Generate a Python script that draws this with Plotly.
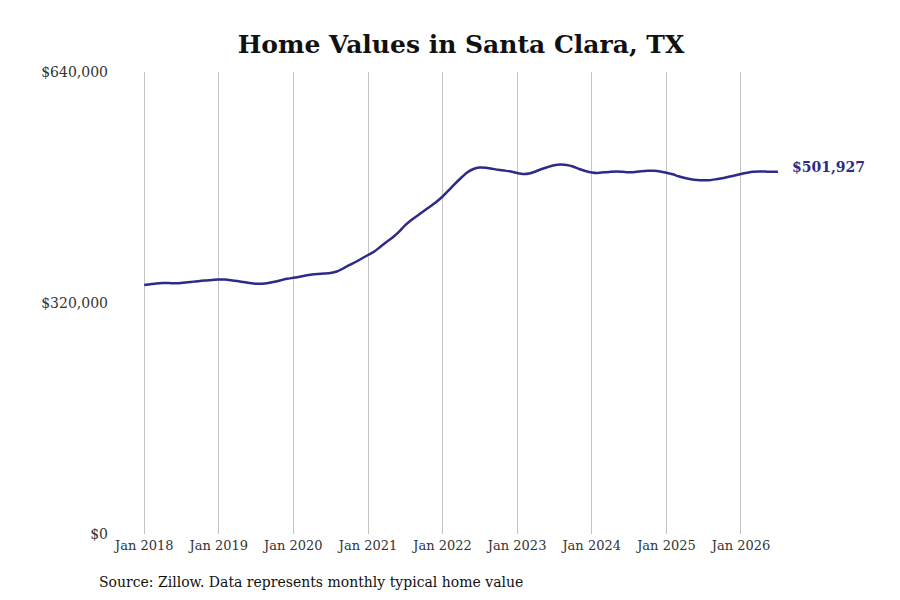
import plotly.graph_objects as go
import pandas as pd

dates = pd.date_range("2018-01-01", "2026-07-01", freq="MS")
values = [
    344900, 346000, 347000, 347600, 347600, 347300, 347700, 348700, 349600, 350500, 351200, 351900,
    352700, 352400, 351600, 350500, 349100, 347700, 346700, 346700, 347700, 349400, 351500, 353500,
    354900, 356400, 358100, 359500, 360300, 360900, 361600, 363600, 367800, 372600, 376800, 381600,
    386500, 391300, 397600, 404500, 410700, 418400, 427400, 435000, 441200, 447400, 453700, 459900,
    467500, 476500, 484800, 493200, 500800, 505600, 507600, 507300, 505900, 504500, 503400, 502200,
    500100, 498700, 499400, 502200, 505600, 508400, 510800, 511900, 511200, 509100, 505600, 502900,
    500800, 500100, 501100, 501700, 502200, 501700, 501200, 501500, 502600, 503300, 503100, 502200,
    500400, 498300, 495500, 493200, 491400, 490400, 490000, 490100, 491400, 492900, 494800, 496600,
    498700, 500400, 501700, 502200, 502000, 501700, 501927,
]
tick_dates = [f"{y}-01-01" for y in range(2018, 2027)]
tick_labels = [f"Jan {y}" for y in range(2018, 2027)]
y_ticks = [0, 320000, 640000]
y_labels = ["$0", "$320,000", "$640,000"]

title = "Home Values in Santa Clara, TX"
source = "Source: Zillow. Data represents monthly typical home value"
color = "#2e2a87"
font = "DejaVu Serif"

# plot area in page pixels (page is offset by 8px body margin)
L, T, B, R = 107, 64, 526, 782
W, H = R - L, B - T

fig = go.Figure()
fig.add_trace(go.Scatter(x=dates, y=values, mode="lines",
                         line=dict(color=color, width=2.5, shape="spline", smoothing=0.6),
                         hoverinfo="skip", showlegend=False))

fig.add_annotation(x=dates[-1], y=values[-1], xref="x", yref="y",
                   text=f"<b>${values[-1]:,}</b>", showarrow=False,
                   xanchor="left", yanchor="middle", xshift=12, yshift=5,
                   font=dict(family=font, size=14, color=color))

fig.add_annotation(x=(89 - L) / W, y=(B - 574) / H, xref="paper", yref="paper", text=source,
                   showarrow=False, xanchor="left", yanchor="middle",
                   font=dict(family=font, size=14, color="#111"))

fig.update_layout(
    width=900, height=600,
    paper_bgcolor="white", plot_bgcolor="white",
    margin=dict(l=L, r=900 - R, t=T, b=600 - B),
    title=dict(text=f"<b>{title}</b>", x=453/900, xanchor="center", y=1-36/600, yanchor="middle",
               font=dict(family=font, size=25, color="#111")),
    font=dict(family=font, size=14, color="#333"),
    xaxis=dict(range=["2017-08-11", "2026-08-29"], tickvals=tick_dates, ticktext=tick_labels,
               showgrid=True, gridcolor="#c4c4c4", gridwidth=1, zeroline=False, showline=False,
               ticks="", ticklabelstandoff=2, tickfont=dict(family=font, size=13, color="#333")),
    yaxis=dict(range=[0, 640000], tickvals=y_ticks, ticktext=y_labels, showgrid=False,
               zeroline=False, showline=False, ticks="", ticklabelstandoff=6,
               tickfont=dict(family=font, size=14, color="#333")),
)

fig.write_html("out.html")
